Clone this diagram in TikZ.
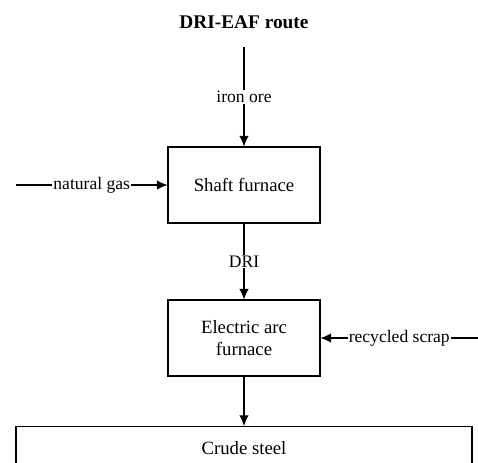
\documentclass[tikz,border=0pt]{standalone}
\usepackage{fontspec}
\setmainfont{Liberation Serif}
\usetikzlibrary{positioning,arrows.meta}

\begin{document}
\begin{tikzpicture}[x=0.03cm,y=-0.03cm,
	box/.style={draw,line width=0.9pt,minimum width=4.56cm,minimum height=2.28cm,align=center,font=\fontsize{16}{19}\selectfont},
	flow/.style={line width=0.9pt,-{Latex[length=9pt,width=8pt]}},
	lbl/.style={fill=white,inner sep=1pt,font=\fontsize{15}{17}\selectfont}]
	\clip (0,0) rectangle (478,462);
	\node[font=\fontsize{16.5}{19}\selectfont\bfseries] (title) at (244,22) {DRI-EAF route};
	\node[box] (shaft) at (244,185) {Shaft furnace};
	\node[box] (eaf) at (244,338) {Electric arc\\furnace};
	\node[box,anchor=north,minimum width=13.68cm,minimum height=1.3cm] (steel) at (244,426) {Crude steel};
	\coordinate (ore) at (244,47);
	\coordinate (gas) at (16,185);
	\coordinate (scrap) at (478,338);
	\draw[flow] (ore) -- node[lbl] {iron ore} (shaft);
	\draw[flow] (gas) -- node[lbl] {natural gas} (shaft);
	\draw[flow] (shaft) -- node[lbl] {DRI} (eaf);
	\draw[flow] (scrap) -- node[lbl] {recycled scrap} (eaf);
	\draw[flow] (eaf) -- (steel);
\end{tikzpicture}
\end{document}
